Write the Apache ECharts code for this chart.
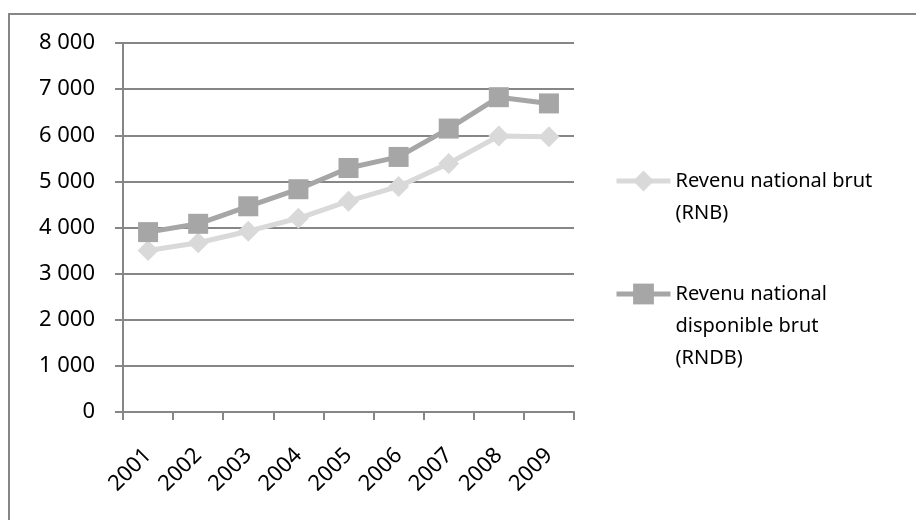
<!DOCTYPE html>
<html>
<head>
<meta charset="utf-8">
<script src="https://cdn.jsdelivr.net/npm/echarts@6/dist/echarts.min.js"></script>
<style>
  html, body { margin: 0; padding: 0; background: #fff; }
  #chart { width: 916px; height: 520px; }
</style>
</head>
<body>
<div id="chart"></div>
<script>
// Années
var years = ['2001', '2002', '2003', '2004', '2005', '2006', '2007', '2008', '2009'];
// Revenu national brut (RNB)
var rnb = [3500, 3670, 3920, 4200, 4570, 4890, 5390, 5985, 5970];
// Revenu national disponible brut (RNDB)
var rndb = [3900, 4080, 4460, 4830, 5290, 5530, 6145, 6825, 6690];
// Noms des séries (libellés de légende sur plusieurs lignes)
var nameRnb = 'Revenu national brut\n(RNB)';
var nameRndb = 'Revenu national\ndisponible brut\n(RNDB)';

var FONT = 'Noto Sans';
var AXIS = '#868686';
var LH = 32;

function fmt(v) {
  return String(v).replace(/\B(?=(\d{3})+(?!\d))/g, ' ');
}

// La première ligne du libellé reste alignée sur le symbole :
// on ajoute autant de lignes vides au-dessus qu'il y a de lignes en dessous.
function legendText(name) {
  var n = name.split('\n').length;
  return new Array(n).join('\n') + name;
}

var legendCommon = {
  orient: 'vertical', left: 614, padding: 0,
  itemWidth: 54, itemHeight: 26,
  formatter: legendText,
  lineStyle: { width: 5 },
  textStyle: { fontFamily: FONT, fontSize: 20, color: '#000', lineHeight: LH }
};

var chart = echarts.init(document.getElementById('chart'), null, { renderer: 'canvas' });
chart.setOption({
  animation: false,
  backgroundColor: '#fff',
  textStyle: { fontFamily: FONT },
  graphic: [{
    type: 'rect',
    shape: { x: 9, y: 14, width: 1000, height: 600 },
    style: { fill: 'none', stroke: AXIS, lineWidth: 2 },
    silent: true
  }],
  grid: { left: 123, right: 342, top: 43, bottom: 108, containLabel: false },
  legend: [
    Object.assign({}, legendCommon, { top: 181 - 1.5 * LH, data: [nameRnb] }),
    Object.assign({}, legendCommon, { top: 294 - 2.5 * LH, data: [nameRndb] })
  ],
  xAxis: {
    type: 'category',
    data: years,
    boundaryGap: true,
    axisLine: { lineStyle: { color: AXIS, width: 2 } },
    axisTick: { show: true, length: 8, lineStyle: { color: AXIS, width: 2 } },
    axisLabel: { rotate: 45, margin: 40, color: '#000', fontFamily: FONT, fontSize: 22 },
    splitLine: { show: false }
  },
  yAxis: {
    type: 'value',
    min: 0, max: 8000, interval: 1000,
    axisLine: { show: true, lineStyle: { color: AXIS, width: 2 } },
    axisTick: { show: true, length: 8, lineStyle: { color: AXIS, width: 2 } },
    axisLabel: { margin: 28, color: '#000', fontFamily: FONT, fontSize: 22, formatter: fmt },
    splitLine: { show: true, lineStyle: { color: AXIS, width: 2 } }
  },
  series: [{
    name: nameRnb,
    type: 'line',
    data: rnb,
    symbol: 'diamond',
    symbolSize: 21,
    color: '#d9d9d9',
    lineStyle: { width: 5, color: '#d9d9d9' },
    itemStyle: { color: '#d9d9d9' }
  }, {
    name: nameRndb,
    type: 'line',
    data: rndb,
    symbol: 'rect',
    symbolSize: 20,
    color: '#a6a6a6',
    lineStyle: { width: 5, color: '#a6a6a6' },
    itemStyle: { color: '#a6a6a6' }
  }]
});
</script>
</body>
</html>
